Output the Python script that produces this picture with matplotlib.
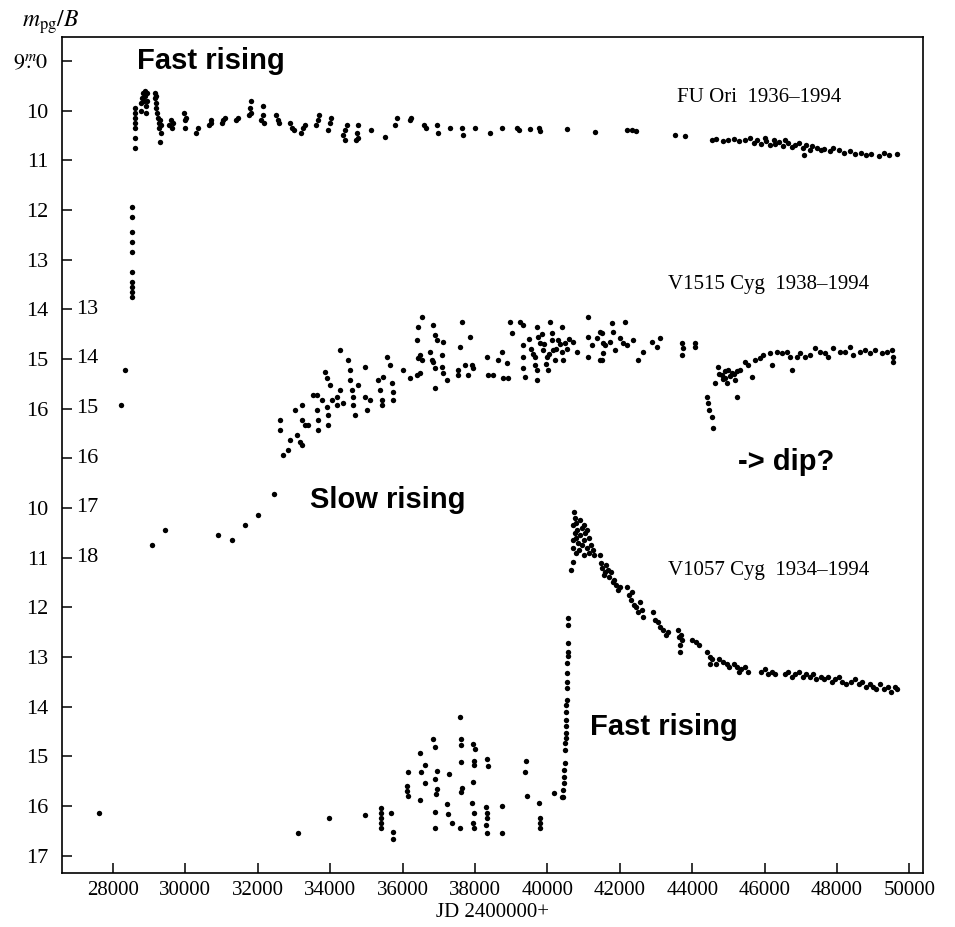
import matplotlib
matplotlib.use("Agg")
import matplotlib.pyplot as plt
import matplotlib.transforms as mtransforms

plt.rcParams["font.family"] = "serif"
plt.rcParams["font.serif"] = ["Liberation Serif", "DejaVu Serif"]
plt.rcParams["mathtext.fontset"] = "stix"

# ---- FU Ori (B / m_pg) ----
fu_jd = [28520, 28520, 28520, 28520, 28520, 28520, 28520, 28520, 28520, 28520,
         28600, 28600, 28600, 28600, 28600, 28600, 28600,
         28760, 28780, 28800, 28820, 28850, 28880, 28900, 28920, 28950, 28950, 28870,
         29150, 29160, 29180, 29200, 29220, 29240, 29260, 29280, 29300, 29320, 29330, 29290, 29200,
         29550, 29600, 29620, 29650, 29950, 29980, 30000, 30020, 30300, 30350,
         30650, 30700, 30720, 31000, 31050, 31100, 31400, 31450,
         31750, 31780, 31800, 31820, 32100, 32130, 32150, 32180, 32500, 32550, 32580,
         32900, 32950, 33000, 33200, 33250, 33300, 33620, 33660, 33700, 33950, 33990, 34020,
         34350, 34400, 34420, 34450, 34700, 34730, 34760, 34780, 35120, 35520,
         35800, 35840, 36200, 36230, 36600, 36650, 36950, 36980, 37310, 37650, 37680,
         38000, 38410, 38750, 39150, 39220, 39520, 39780, 39800, 40540, 41310,
         42200, 42330, 42450, 43520, 43800,
         44550, 44650, 44850, 45000, 45150, 45300, 45450, 45600, 45700, 45800, 45900,
         46000, 46050, 46150, 46250, 46300, 46400, 46500, 46550, 46650, 46750, 46850,
         46950, 47050, 47150, 47250, 47300, 47450, 47550, 47650, 47800, 47900, 48050,
         48200, 48350, 48500, 48650, 48800, 48950, 49150, 49300, 49450, 49650, 47100]
fu_mag = [13.75, 13.65, 13.55, 13.45, 13.25, 12.85, 12.65, 12.45, 12.15, 11.95,
          10.75, 10.55, 10.35, 10.25, 10.15, 10.05, 9.95,
          9.85, 10.0, 9.75, 9.65, 9.8, 9.7, 9.9, 10.05, 9.65, 9.8, 9.6,
          9.65, 9.75, 9.85, 9.95, 10.05, 10.15, 10.25, 10.35, 10.2, 10.45, 10.3, 10.64, 9.7,
          10.3, 10.2, 10.35, 10.25, 10.05, 10.2, 10.35, 10.15, 10.45, 10.35,
          10.3, 10.2, 10.25, 10.25, 10.2, 10.15, 10.2, 10.15,
          10.1, 9.95, 9.8, 10.05, 10.2, 9.9, 10.1, 10.25, 10.1, 10.2, 10.25,
          10.25, 10.35, 10.4, 10.45, 10.35, 10.3, 10.3, 10.2, 10.1, 10.4, 10.25, 10.15,
          10.5, 10.4, 10.6, 10.3, 10.6, 10.45, 10.3, 10.55, 10.4, 10.54,
          10.3, 10.15, 10.2, 10.15, 10.3, 10.35, 10.3, 10.45, 10.35, 10.35, 10.5,
          10.35, 10.45, 10.35, 10.35, 10.4, 10.38, 10.36, 10.42, 10.38, 10.44,
          10.4, 10.4, 10.42, 10.5, 10.52,
          10.6, 10.58, 10.62, 10.6, 10.58, 10.62, 10.6, 10.55, 10.65, 10.6, 10.68,
          10.55, 10.62, 10.7, 10.6, 10.68, 10.63, 10.72, 10.6, 10.65, 10.74, 10.7,
          10.66, 10.75, 10.7, 10.8, 10.72, 10.75, 10.8, 10.78, 10.82, 10.75, 10.8,
          10.85, 10.82, 10.88, 10.85, 10.9, 10.88, 10.92, 10.85, 10.9, 10.88, 10.9]

# ---- V1515 Cyg ----
v1515_jd = [28330, 28220,
            29077, 29436, 30900, 31287, 31646, 32005, 32447,
            32613, 32613, 32696, 32834, 32889, 33082, 33165, 33220, 33027, 33220, 33220,
            33303, 33386, 33524, 33634, 33634, 33662, 33662, 33773, 33911, 33938, 33938,
            33855, 33911, 33994, 34049, 34187, 34187, 34270, 34270, 34491, 34353, 34546,
            34546, 34601, 34629, 34629, 34684, 34767, 34960, 34960, 35015, 35098, 35319,
            35375, 35430, 35430, 35457, 35568, 35651, 35706, 35734, 35734, 36010, 36203,
            36396, 36479, 36424, 36396, 36424, 36534, 36479, 36534, 36755, 36811, 36838,
            36894, 36949, 36838, 36894, 36894, 37087, 37087, 37115, 37225, 37115, 37584,
            37529, 37529, 37639, 37722, 37805, 37860, 37915, 37943, 38330, 38358, 38496,
            38634, 38744, 38772, 38882, 38910, 38965, 39020, 39241, 39324, 39324, 39324,
            39324, 39379, 39656, 39656, 39711, 39711, 39711, 39739, 39794, 39877, 39987,
            40015, 40070, 40125, 40125, 40153, 40208, 40291, 40401, 40401, 40429, 40484,
            40705, 40815, 41119, 41119, 41119, 41230, 41451, 41451, 41534, 41534,
            39500, 39550, 39600, 39850, 39900, 39950, 40050, 40250, 40350, 40550, 40600,
            41368, 41506, 41506, 41589, 41727, 41782, 41810, 41865, 42003, 42086, 42141,
            42197, 42362, 42500, 42639, 42887, 43025, 43108, 43716, 43716, 43744, 44075,
            44075,
            44406, 44434, 44461, 44544, 44572, 44627, 44710, 44820, 44903, 44959, 44986,
            45097, 45235, 45180, 45318, 45456, 45539, 45649, 45732, 45870, 45953, 46146,
            46202, 46340, 46478, 46616, 46699, 46754, 46892, 46975, 47113, 47251, 47389,
            47527, 47665, 47748, 47886, 48080, 48218, 48356, 48439, 48632, 48770, 48908,
            49046, 49240, 49378, 49516, 49544, 49544,
            44750, 44850, 44900, 45050, 45150, 45250]
v1515_mag = [14.22, 14.93,
             17.74, 17.44, 17.54, 17.64, 17.34, 17.14, 16.72,
             15.23, 15.43, 15.94, 15.83, 15.63, 15.53, 15.67, 15.73, 15.03, 14.93, 15.23,
             15.33, 15.33, 14.73, 14.73, 15.03, 15.23, 15.43, 14.83, 14.97, 15.13, 15.33,
             14.26, 14.38, 14.52, 14.83, 14.77, 14.93, 14.63, 13.82, 14.02, 14.89, 14.22,
             14.42, 14.63, 14.77, 14.93, 15.13, 14.52, 14.16, 14.77, 15.03, 14.83, 14.42,
             14.63, 14.83, 14.93, 14.36, 13.96, 14.12, 14.48, 14.66, 14.83, 14.22, 14.38,
             14.32, 14.28, 13.98, 13.62, 13.36, 13.16, 13.92, 14.02, 13.86, 14.02, 13.32,
             13.52, 13.62, 14.06, 14.18, 14.59, 13.92, 14.16, 14.28, 14.42, 13.66, 13.76,
             14.22, 14.32, 13.26, 14.12, 14.32, 13.56, 14.12, 14.18, 13.96, 14.32, 14.32,
             14.02, 13.86, 14.38, 14.08, 14.38, 13.26, 13.48, 13.26, 13.32, 13.72, 13.96,
             14.18, 14.36, 13.96, 14.12, 14.22, 14.42, 13.36, 13.56, 13.68, 13.82, 13.96,
             14.22, 13.26, 13.48, 13.62, 13.82, 14.02, 13.62, 13.36, 13.86, 14.02, 13.68,
             13.66, 13.86, 13.16, 13.56, 13.96, 13.72, 13.46, 14.02, 13.68, 13.88,
             13.6, 13.8, 13.9, 13.5, 13.7, 14.1, 13.9, 13.8, 13.7, 13.8, 13.6,
             13.58, 13.48, 14.02, 13.72, 13.66, 13.28, 13.46, 13.82, 13.58, 13.68, 13.26,
             13.72, 13.62, 14.02, 13.86, 13.66, 13.76, 13.58, 13.68, 13.92, 13.78, 13.68,
             13.76,
             14.77, 14.89, 15.03, 15.17, 15.39, 14.48, 14.16, 14.32, 14.38, 14.48, 14.22,
             14.28, 14.77, 14.42, 14.22, 14.06, 14.12, 14.36, 14.02, 13.98, 13.92, 13.88,
             14.12, 13.86, 13.88, 13.86, 13.96, 14.22, 13.96, 13.88, 13.96, 13.92, 13.78,
             13.86, 13.88, 13.96, 13.78, 13.86, 13.86, 13.76, 13.92, 13.86, 13.82, 13.88,
             13.82, 13.88, 13.86, 13.82, 14.06, 13.96,
             14.3, 14.4, 14.25, 14.35, 14.3, 14.25]

# ---- V1057 Cyg ----
v1057_jd = [27613, 33110, 33966, 34960, 35402, 35402, 35402, 35402, 35402, 35679,
            35734, 35734, 36148, 36120, 36120, 36148, 36479, 36507, 36479, 36617, 36617,
            36838, 36894, 36949, 36894, 36949, 36921, 36894, 36894, 37280, 37225, 37253,
            37363, 37584, 37612, 37612, 37612, 37639, 37612, 37584, 37943, 37998, 37971,
            37971, 37943, 37915, 37971, 37943, 37971, 38330, 38358, 38303, 38330, 38330,
            38303, 38330, 38744, 38744, 39407, 39379, 39435, 39766, 39794, 39794, 39794,
            40180, 40429,
            40570, 40565, 40560, 40555, 40555, 40550, 40545, 40540, 40535, 40530, 40525,
            40520, 40515, 40510, 40505, 40500, 40495, 40490, 40480, 40470, 40460, 40450,
            40440, 40400,
            40650, 40705,
            40730, 40760, 40700, 40750, 40700, 40720, 40800, 40830, 40800, 40850, 40780,
            40900, 40950, 40900, 40950, 41000, 41050, 41000, 41080, 41100, 41150, 41200,
            41150, 41250, 41300, 40880, 41000,
            41450, 41480, 41520, 41600, 41620, 41700, 41750, 41800, 41850, 41900, 41950,
            42000, 41550, 41680,
            42200, 42250, 42300, 42350, 42400, 42450, 42500, 42550, 42600, 42640,
            42920, 42980, 43050, 43120, 43200, 43280, 43330,
            43600, 43630, 43650, 43660, 43700, 43720,
            44000, 44100, 44200, 44400, 44480, 44550, 44650, 44500,
            44750, 44850, 44950, 45030, 45150, 45250, 45350, 45450, 45550, 45300,
            45900, 46000, 46100, 46200, 46300,
            46550, 46650, 46750, 46850, 46950, 47050, 47150, 47250, 47350, 47420,
            47550, 47650, 47750, 47850, 47950, 48050, 48150, 48250,
            48400, 48500, 48600, 48700, 48800, 48900, 49000, 49080,
            49200, 49300, 49400, 49500, 49600, 49650]
v1057_mag = [16.14, 16.54, 16.24, 16.18, 16.04, 16.14, 16.24, 16.34, 16.44, 16.14,
             16.52, 16.66, 15.31, 15.59, 15.69, 15.79, 14.93, 15.31, 15.89, 15.17, 15.53,
             14.65, 14.81, 15.29, 15.45, 15.65, 15.75, 16.12, 16.44, 15.35, 15.97, 16.16,
             16.34, 14.21, 14.65, 14.77, 15.11, 15.63, 15.71, 16.44, 14.75, 14.85, 15.09,
             15.17, 15.51, 15.94, 16.14, 16.34, 16.44, 15.05, 15.19, 16.02, 16.14, 16.24,
             16.38, 16.54, 16.00, 16.54, 15.09, 15.31, 15.79, 15.94, 16.24, 16.34, 16.44,
             15.73, 15.83,
             12.21, 12.35, 12.72, 12.90, 12.99, 13.12, 13.32, 13.50, 13.62, 13.86, 13.96,
             14.10, 14.26, 14.40, 14.53, 14.63, 14.73, 14.87, 15.13, 15.27, 15.41, 15.53,
             15.67, 15.81,
             11.25, 11.09,
             10.08, 10.2, 10.35, 10.5, 10.65, 10.8, 10.3, 10.45, 10.6, 10.7, 10.9,
             10.25, 10.4, 10.55, 10.75, 10.35, 10.5, 10.65, 10.8, 10.45, 10.6, 10.75,
             10.9, 10.85, 10.95, 10.85, 10.95,
             10.95, 11.1, 11.2, 11.3, 11.15, 11.4, 11.3, 11.5, 11.45, 11.55, 11.65,
             11.6, 11.35, 11.25,
             11.6, 11.75, 11.85, 11.7, 11.95, 12.0, 12.1, 11.9, 12.05, 12.2,
             12.1, 12.25, 12.3, 12.4, 12.45, 12.55, 12.5,
             12.45, 12.6, 12.75, 12.9, 12.55, 12.65,
             12.65, 12.7, 12.75, 12.9, 13.0, 13.05, 13.15, 13.15,
             13.05, 13.1, 13.15, 13.2, 13.15, 13.2, 13.25, 13.2, 13.3, 13.3,
             13.3, 13.25, 13.35, 13.3, 13.35,
             13.35, 13.3, 13.4, 13.35, 13.3, 13.4, 13.35, 13.4, 13.35, 13.45,
             13.4, 13.45, 13.4, 13.5, 13.45, 13.4, 13.5, 13.55,
             13.5, 13.45, 13.55, 13.5, 13.6, 13.55, 13.6, 13.65,
             13.55, 13.65, 13.6, 13.7, 13.6, 13.65]

# vertical offsets that put the three magnitude scales on one axis (FU Ori scale)
V1515_SHIFT = 1.0
V1057_SHIFT = 8.0

x_ticks = list(range(28000, 50001, 2000))
outer_ticks = [9, 10, 11, 12, 13, 14, 15, 16, 18, 19, 20, 21, 22, 23, 24, 25]
outer_labels = [r"$9\overset{m}{.}0$", "10", "11", "12", "13", "14", "15", "16",
                "10", "11", "12", "13", "14", "15", "16", "17"]
inner_ticks = [14, 15, 16, 17, 18, 19]
inner_labels = ["13", "14", "15", "16", "17", "18"]

W, H = 955, 927
fig = plt.figure(figsize=(W / 100, H / 100), dpi=100)
ax = fig.add_axes([62 / W, 1 - 873 / H, (923 - 62) / W, (873 - 37) / H])

dot = dict(s=15, c="black", linewidths=0)
ax.scatter(fu_jd, fu_mag, **dot)
ax.scatter(v1515_jd, [m + V1515_SHIFT for m in v1515_mag], **dot)
ax.scatter(v1057_jd, [m + V1057_SHIFT for m in v1057_mag], **dot)

ax.set_xlim(26590, 50376)
ax.set_ylim(25.35, 8.52)

ax.set_xticks(x_ticks)
ax.set_xticklabels([str(t) for t in x_ticks], fontsize=15)
all_y = sorted(outer_ticks + [17])
lab = dict(zip(outer_ticks, outer_labels))
ax.set_yticks(all_y)
ax.set_yticklabels([lab.get(t, "") for t in all_y], fontsize=16)
ax.tick_params(direction="in", length=7, width=1.1, pad=6)
ax.tick_params(axis="y", pad=10)
for sp in ax.spines.values():
    sp.set_linewidth(1.2)

# inner scale (V1515 Cyg) labels sit inside the frame
trans = mtransforms.blended_transform_factory(ax.transAxes, ax.transData)
for t, l in zip(inner_ticks, inner_labels):
    ax.text(0.016, t, l, transform=trans, ha="left", va="center", fontsize=16)

ax.set_xlabel("JD 2400000+", fontsize=15, labelpad=2)
fig.text(22 / W, 1 - 22 / H, r"$m_{\rm pg}/B$", fontsize=17, ha="left", va="center")

# star labels
for s, (x, y) in [("FU Ori  1936\u20131994", (677, 98)),
                  ("V1515 Cyg  1938\u20131994", (668, 284)),
                  ("V1057 Cyg  1934\u20131994", (668, 570))]:
    fig.text(x / W, 1 - y / H, s, fontsize=15, ha="left", va="center")

# annotations
sans = ["Liberation Sans", "DejaVu Sans"]
for s, (x, y) in [("Fast rising", (137, 61)), ("Slow rising", (310, 500)),
                  ("-> dip?", (738, 462)), ("Fast rising", (590, 727))]:
    fig.text(x / W, 1 - y / H, s, fontsize=21, fontweight="bold",
             family=sans, ha="left", va="center")

fig.savefig("out.png", dpi=100)
